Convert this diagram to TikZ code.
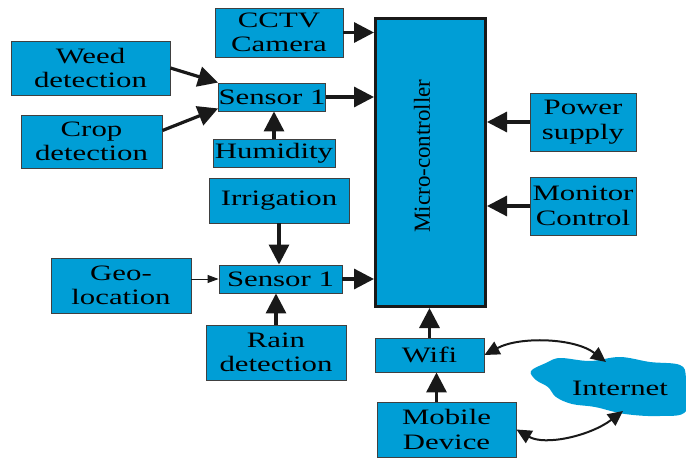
\documentclass[tikz,border=0pt]{standalone}
\usepackage{fontspec}
\usepackage{graphicx}
\setmainfont{Liberation Serif}
\newcommand{\wt}[1]{\scalebox{1.4}[1]{#1}}
\usetikzlibrary{arrows.meta}
\definecolor{boxblue}{RGB}{0,158,214}
\tikzset{
  blk/.style={draw=black!75, line width=0.9pt, fill=boxblue, inner sep=0pt, align=center,
    font=\fontsize{22}{24.5}\selectfont},
  arr/.style={line width=3.2pt, black!90, -{Triangle[length=20pt,width=20pt]}},
  thinarr/.style={line width=1pt, black!90, -{Triangle[length=11pt,width=8pt]}},
  darr/.style={line width=2pt, black!90, {Triangle[length=15pt,width=14pt]}-{Triangle[length=15pt,width=14pt]}}
}
\begin{document}
\begin{tikzpicture}[x=1pt,y=-1pt]
\useasboundingbox (0,0) rectangle (686,460);
% cloud
\fill[boxblue] plot[smooth cycle, tension=0.6] coordinates {(531,371) (546,363) (560,358) (590,361) (620,357) (650,362) (680,365) (686,378) (686,411) (660,416) (625,414) (595,407) (572,404) (556,397) (548,387) (536,380)};
\node[font=\fontsize{22}{24.5}\selectfont] (internet) at (620,388) {\wt{Internet}};
\coordinate (c1) at (606,362);
\coordinate (c2) at (623,411);

\node[blk, minimum width=128pt, minimum height=49pt] (cctv) at (279,32.5) {\wt{CCTV}\\\wt{Camera}};
\node[blk, minimum width=159pt, minimum height=54pt] (weed) at (90.5,68) {\wt{Weed}\\\wt{detection}};
\node[blk, minimum width=141pt, minimum height=53pt] (crop) at (91.5,141.5) {\wt{Crop}\\\wt{detection}};
\node[blk, minimum width=106pt, minimum height=28pt] (s1) at (272,97) {\wt{Sensor 1}};
\node[blk, minimum width=122pt, minimum height=28pt] (hum) at (274,153) {\wt{Humidity}};
\node[blk, minimum width=140pt, minimum height=45pt] (irr) at (279,200.5) {\wt{Irrigation}};
\node[blk, minimum width=140pt, minimum height=55pt] (geo) at (121,285.5) {\wt{Geo-}\\\wt{location}};
\node[blk, minimum width=123pt, minimum height=28pt] (s2) at (280.5,279) {\wt{Sensor 1}};
\node[blk, minimum width=140pt, minimum height=55pt] (rain) at (276,352.5) {\wt{Rain}\\\wt{detection}};
\node[blk, draw=black!90, line width=3pt, minimum width=110pt, minimum height=288pt] (mc) at (430.5,162.5) {};
\node[rotate=90, font=\fontsize{23}{24}\selectfont] (mctext) at (422,156) {Micro-controller};
\node[blk, minimum width=106pt, minimum height=58pt] (power) at (583,122) {\wt{Power}\\\wt{supply}};
\node[blk, minimum width=106pt, minimum height=58pt] (monitor) at (583,206) {\wt{Monitor}\\\wt{Control}};
\node[blk, minimum width=109pt, minimum height=34pt] (wifi) at (429.5,355) {\wt{Wifi}};
\node[blk, minimum width=139pt, minimum height=55pt] (mobile) at (446.5,429.5) {\wt{Mobile}\\\wt{Device}};

\draw[arr] (cctv.east) -- (cctv.east -| mc.west);
\draw[arr] (weed.east) -- (s1.north west);
\draw[arr] ([yshift=11pt]crop.east) -- ([yshift=3pt]s1.south west);
\draw[arr] (s1.east) -- (s1.east -| mc.west);
\draw[arr] (hum.north) -- (hum.north |- s1.south);
\draw[arr] (irr.south) -- (irr.south |- s2.north);
\draw[thinarr] (geo.east |- s2.west) -- (s2.west);
\draw[arr] (rain.north) -- (rain.north |- s2.south);
\draw[arr] (s2.east) -- (s2.east -| mc.west);
\draw[arr] (power.west) -- (power.west -| mc.east);
\draw[arr] (monitor.west) -- (monitor.west -| mc.east);
\draw[arr] (wifi.north) -- (wifi.north |- mc.south);
\draw[arr] ([xshift=-10pt]mobile.north) -- ([xshift=-10pt]mobile.north |- wifi.south);
\draw[darr] (wifi.east) .. controls (520,336) and (575,338) .. (c1);
\draw[darr] (mobile.east) .. controls (545,446) and (590,436) .. (c2);
\end{tikzpicture}
\end{document}
